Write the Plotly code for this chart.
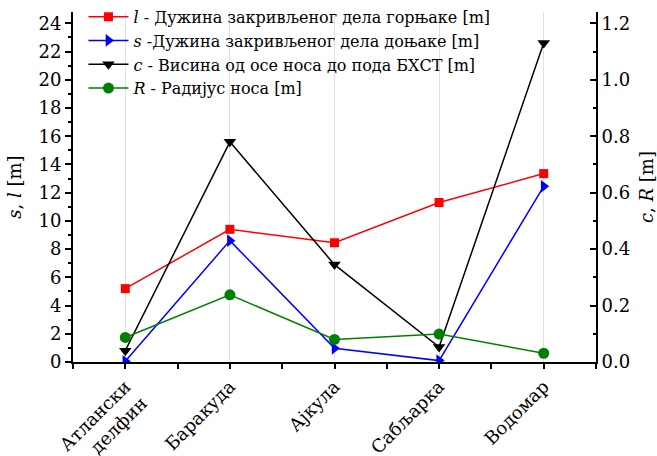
import plotly.graph_objects as go

# Categories (boat names)
categories = ["Атлански<br>делфин", "Баракуда", "Ајкула", "Сабљарка", "Водомар"]

# Left axis series [m]
l_upper = [5.2, 9.4, 8.45, 11.3, 13.35]
s_lower = [0.05, 8.6, 0.97, 0.1, 12.45]

# Right axis series [m]
c_height = [0.04, 0.78, 0.345, 0.053, 1.13]
r_nose = [0.087, 0.238, 0.08, 0.099, 0.031]

x_pos = list(range(len(categories)))

FONT = "DejaVu Serif"


def serif(size):
    return dict(family=FONT, size=size, color="black")


fig = go.Figure()

fig.add_trace(go.Scatter(
    x=x_pos, y=l_upper, mode="lines+markers",
    name="<i>l</i> - Дужина закривљеног дела горњаке [m]",
    line=dict(color="#ff0000", width=1.5),
    marker=dict(symbol="square", size=9, color="#ff0000"),
))
fig.add_trace(go.Scatter(
    x=x_pos, y=s_lower, mode="lines+markers",
    name="<i>s</i> -Дужина закривљеног дела доњаке [m]",
    line=dict(color="#0000ff", width=1.5),
    marker=dict(symbol="triangle-right", size=11, color="#0000ff"),
))
fig.add_trace(go.Scatter(
    x=x_pos, y=c_height, mode="lines+markers", yaxis="y2",
    name="<i>c</i> - Висина од осе носа до пода БХСТ [m]",
    line=dict(color="#000000", width=1.5),
    marker=dict(symbol="triangle-down", size=11, color="#000000"),
))
fig.add_trace(go.Scatter(
    x=x_pos, y=r_nose, mode="lines+markers", yaxis="y2",
    name="<i>R</i> - Радијус носа [m]",
    line=dict(color="#008000", width=1.5),
    marker=dict(symbol="circle", size=11, color="#008000"),
))

fig.update_layout(
    width=657, height=456,
    margin=dict(l=73, r=61, t=12, b=94, autoexpand=False),
    paper_bgcolor="white", plot_bgcolor="white",
    font=serif(18),
    showlegend=True,
    legend=dict(
        x=0.02, y=1.035, xanchor="left", yanchor="top",
        bgcolor="rgba(0,0,0,0)", font=serif(16),
        itemwidth=40, tracegroupgap=0, traceorder="normal",
    ),
    xaxis=dict(
        range=[-0.5, 4.5], automargin=False,
        tickmode="array", tickvals=x_pos, ticktext=categories,
        tickangle=-45,
        showline=True, linecolor="black", linewidth=2,
        ticks="outside", ticklen=5, tickwidth=1.5, tickcolor="black",
        showgrid=True, gridcolor="#e0e0e0", gridwidth=1,
        zeroline=False,
        minor=dict(tickvals=[-0.5, 0.5, 1.5, 2.5, 3.5, 4.5], ticks="outside",
                   ticklen=5, tickwidth=1.5, tickcolor="black", showgrid=False),
        tickfont=serif(18),
    ),
    yaxis=dict(
        range=[0, 24.8], automargin=False,
        tickmode="linear", tick0=0, dtick=2,
        showline=True, linecolor="black", linewidth=2,
        ticks="outside", ticklen=6, tickwidth=1.5, tickcolor="black",
        minor=dict(dtick=1, ticks="outside", ticklen=3, tickwidth=1.5,
                   tickcolor="black", showgrid=False),
        showgrid=False, zeroline=False,
        title=dict(text="<i>s</i>, <i>l</i> [m]", standoff=12, font=serif(18)),
        tickfont=serif(18),
    ),
    yaxis2=dict(
        range=[0, 1.24], overlaying="y", side="right", automargin=False,
        tickmode="linear", tick0=0, dtick=0.2, tickformat=".1f",
        showline=True, linecolor="black", linewidth=2,
        ticks="inside", ticklen=6, tickwidth=1.5, tickcolor="black",
        minor=dict(dtick=0.1, ticks="inside", ticklen=3, tickwidth=1.5,
                   tickcolor="black", showgrid=False),
        showgrid=False, zeroline=False,
        title=dict(text="<i>c</i>, <i>R</i> [m]", standoff=12, font=serif(18)),
        tickfont=serif(18),
    ),
)

fig.write_html("out.html")
